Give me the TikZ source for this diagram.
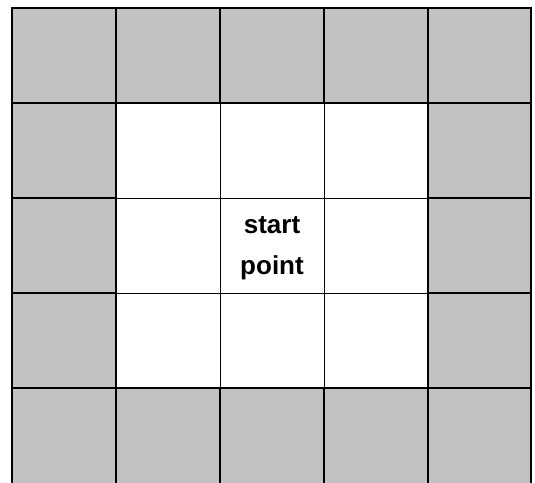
\documentclass[tikz,border=0pt]{standalone}
\usepackage{fontspec}
\setmainfont{Liberation Sans}
\definecolor{screengray}{RGB}{194,194,194}
\usetikzlibrary{positioning}

\begin{document}
\begin{tikzpicture}[x=1pt, y=1pt,
    gridline/.style={line width=1.2pt, black},
    thinline/.style={line width=0.8pt, black},
    boxline/.style={line width=2.4pt, black}]
    \useasboundingbox (0,0) rectangle (535,482);
    \clip (0,0) rectangle (535,482);

    % Screened outer ring
    \fill[screengray] (12,-2) rectangle (531,474);

    % White centre block
    \fill[white] (116,94) rectangle (428,379);

    % Lines inside the centre block
    \foreach \x in {220, 324} {
        \draw[thinline] (\x,94) -- (\x,379);
    }
    \foreach \y in {189, 284} {
        \draw[thinline] (116,\y) -- (428,\y);
    }

    % Lines of the outer ring
    \foreach \x in {116, 220, 324, 428} {
        \draw[gridline] (\x,474) -- (\x,379);
        \draw[gridline] (\x,94) -- (\x,-2);
    }
    \foreach \y in {94, 189, 284, 379} {
        \draw[gridline] (12,\y) -- (116,\y);
        \draw[gridline] (428,\y) -- (531,\y);
    }

    % Borders
    \draw[boxline] (116,94) rectangle (428,379);
    \draw[boxline] (12,-2) rectangle (531,474);

    % Label
    \node[font=\bfseries\fontsize{26}{41}\selectfont, align=center] (start) at (272,234) {start\\point};
\end{tikzpicture}
\end{document}
